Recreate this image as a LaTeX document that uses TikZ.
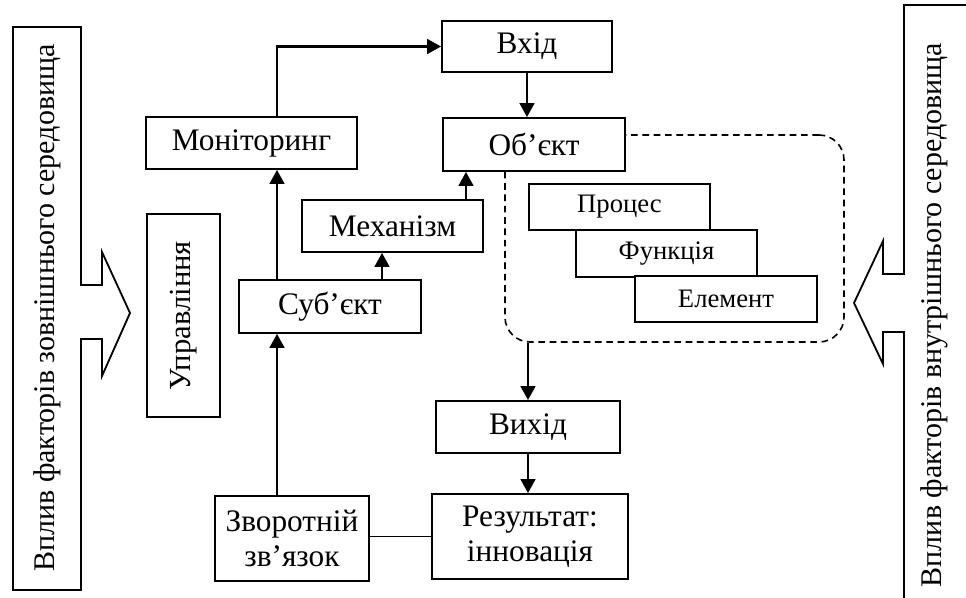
\documentclass[tikz,border=0pt]{standalone}
\usepackage{fontspec}
\setmainfont{Liberation Serif}
\usetikzlibrary{arrows.meta}

\begin{document}
\begin{tikzpicture}[x=0.75pt,y=-0.75pt,
  wh/.style 2 args={minimum width=#1*0.75pt,minimum height=#2*0.75pt},
  box/.style={draw,line width=1.35pt,fill=white,inner sep=0pt,align=center,font=\fontsize{23.5}{26}\selectfont},
  smallbox/.style={box,font=\fontsize{20}{23}\selectfont},
  arr/.style={line width=1.9pt,-{Triangle[length=10.5pt,width=11pt]}},
  bigarrow/.style={line width=1.35pt,line join=miter}]
  \useasboundingbox (0,0) rectangle (966,598);
  % outer influences
  \draw[bigarrow] (13,27) -- (81,27) -- (81,285) -- (102,285) -- (102,252) -- (130,313)
    -- (102,376) -- (102,339) -- (81,339) -- (81,590) -- (13,590) -- cycle;
  \node[rotate=90,font=\fontsize{22.5}{25}\selectfont] (zovn) at (47,308) {Вплив факторів зовнішнього середовища};
  \draw[bigarrow] (975,5) -- (904,5) -- (904,274) -- (883,274) -- (883,241) -- (854,303)
    -- (883,364) -- (883,332) -- (904,332) -- (904,610);
  \node[rotate=90,font=\fontsize{22.5}{25}\selectfont] (vnut) at (934,315) {Вплив факторів внутрішнього середовища};
  % object area
  \node[draw,line width=1.2pt,dash pattern=on 5pt off 3.5pt,rounded corners=18.75pt,wh={339}{207}] (obl) at (674.5,238.5) {};
  \node[smallbox,wh={181}{46}] (proc) at (619.5,207) {Процес};
  \node[smallbox,wh={181}{47}] (func) at (666.5,253.5) {Функція};
  \node[smallbox,wh={182}{46}] (elem) at (726,299) {Елемент};
  % main blocks
  \node[box,wh={170}{51}] (vhid) at (527,46.5) {Вхід};
  \node[box,wh={182}{53}] (obj) at (534,144.5) {Об’єкт};
  \node[box,wh={211}{52}] (mon) at (251.5,143) {Моніторинг};
  \node[box,wh={181}{52}] (mech) at (392.5,226) {Механізм};
  \node[box,wh={182}{53}] (sub) at (330,306.5) {Суб’єкт};
  \node[box,wh={73}{203}] (upr) at (183.5,315.5) {};
  \node[rotate=90,font=\fontsize{23}{25}\selectfont] at (upr.center) {Управління};
  \node[box,wh={184}{52}] (vyh) at (528,427) {Вихід};
  \node[box,wh={196}{85}] (res) at (530,536.5) {Результат:\\інновація};
  \node[box,wh={154}{85}] (zv) at (292,538.5) {Зворотній\\зв’язок};
  % connectors
  \coordinate (sp1) at (277,0);
  \coordinate (sp2) at (382,0);
  \coordinate (sp3) at (466,0);
  \draw[arr] (zv.north -| sp1) -- (sub.south -| sp1);
  \draw[arr] (sub.north -| sp1) -- (mon.south -| sp1);
  \draw[arr] (mon.north -| sp1) |- (vhid.west);
  \draw[arr] (vhid.south) -- (vhid.south |- obj.north);
  \draw[arr] (sub.north -| sp2) -- (mech.south -| sp2);
  \draw[arr] (mech.north -| sp3) -- (obj.south -| sp3);
  \draw[arr] (vyh.north |- obl.south) -- (vyh.north);
  \draw[arr] (vyh.south) -- (vyh.south |- res.north);
  \draw[line width=1.35pt] (zv.east |- res.west) -- (res.west);
\end{tikzpicture}
\end{document}
